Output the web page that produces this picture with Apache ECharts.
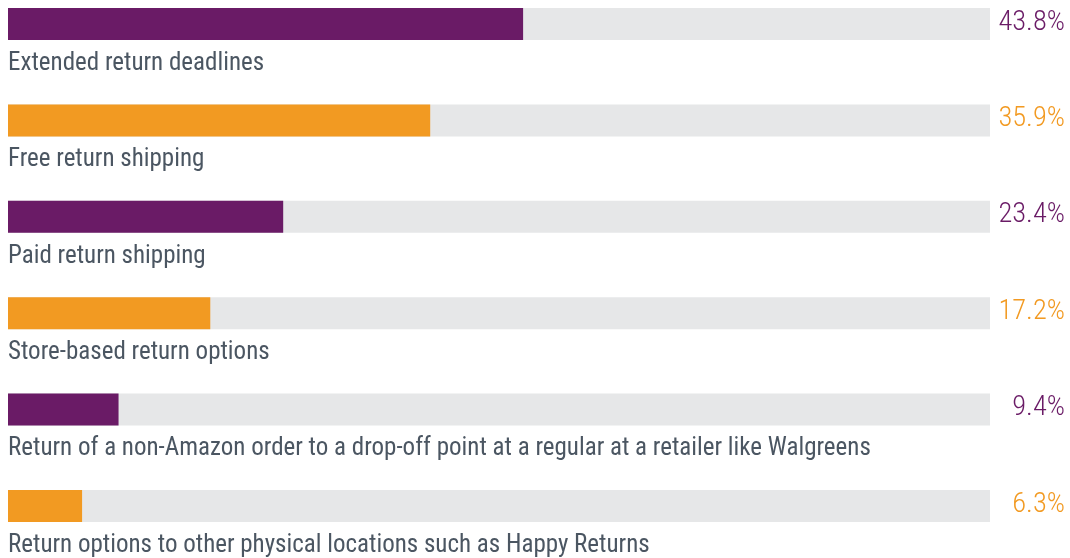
<!DOCTYPE html>
<html>
<head>
<meta charset="utf-8">
<script src="https://cdn.jsdelivr.net/npm/echarts@6/dist/echarts.min.js"></script>
<style>
  html, body { margin: 0; padding: 0; background: #fff; }
  #chart { width: 1070px; height: 558px; }
</style>
</head>
<body>
<div id="chart"></div>
<script>
const categories = [
  'Extended return deadlines',
  'Free return shipping',
  'Paid return shipping',
  'Store-based return options',
  'Return of a non-Amazon order to a drop-off point at a regular at a retailer like Walgreens',
  'Return options to other physical locations such as Happy Returns',
];
const values = [43.8, 35.9, 23.4, 17.2, 9.4, 6.3];
const valueLabels = ['43.8%', '35.9%', '23.4%', '17.2%', '9.4%', '6.3%'];
const colors = ['#6a1b66', '#f29a22'];

const FONT = "'Roboto Condensed', 'DejaVu Sans Condensed', sans-serif";

const chart = echarts.init(document.getElementById('chart'));
chart.setOption({
  animation: false,
  grid: { left: 8, right: 80, top: 24, bottom: 52 },
  xAxis: { type: 'value', min: 0, max: 83.5, show: false },
  yAxis: [{
    type: 'category',
    data: categories,
    inverse: true,
    boundaryGap: false,
    show: false,
  }, {
    type: 'category',
    data: categories,
    inverse: true,
    boundaryGap: false,
    position: 'right',
    axisLine: { show: false },
    axisTick: { show: false },
    splitLine: { show: false },
    axisLabel: {
      margin: 75,
      align: 'right',
      formatter(value, idx) {
        return `{c${idx % 2}|${valueLabels[idx]}}`;
      },
      rich: {
        c0: { color: colors[0], fontSize: 28.5, fontWeight: 300, fontFamily: FONT, padding: [0, 0, 3, 0] },
        c1: { color: colors[1], fontSize: 28.5, fontWeight: 300, fontFamily: FONT, padding: [0, 0, 3, 0] },
      },
    },
  }],
  series: [{
    type: 'bar',
    data: values,
    barWidth: 32,
    showBackground: true,
    backgroundStyle: { color: '#e6e7e8' },
    itemStyle: {
      color(p) { return colors[p.dataIndex % 2]; },
    },
    label: {
      show: true,
      position: [0, 43],
      align: 'left',
      verticalAlign: 'top',
      color: '#4b5662',
      fontSize: 25,
      fontFamily: FONT,
      formatter(p) { return categories[p.dataIndex]; },
    },
  }],
});
</script>
</body>
</html>
